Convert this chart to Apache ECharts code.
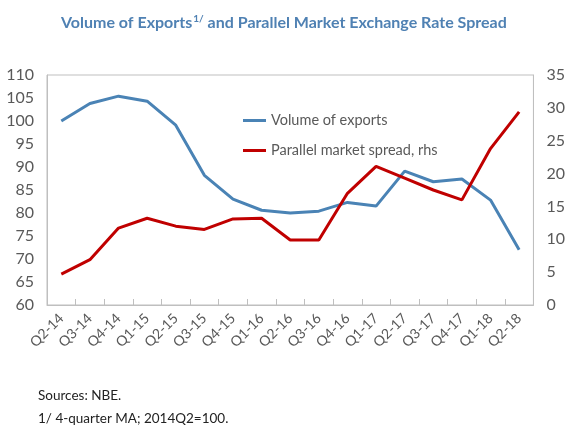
<!DOCTYPE html>
<html>
<head>
<meta charset="utf-8">
<script src="https://cdn.jsdelivr.net/npm/echarts@6/dist/echarts.min.js"></script>
<style>
html,body{margin:0;padding:0;background:#fff;}
#c{width:568px;height:429px;}
</style>
</head>
<body>
<div id="c"></div>
<script>
const categories = ["Q2-14","Q3-14","Q4-14","Q1-15","Q2-15","Q3-15","Q4-15","Q1-16","Q2-16","Q3-16","Q4-16","Q1-17","Q2-17","Q3-17","Q4-17","Q1-18","Q2-18"];
const exportsVolume = [100, 103.8, 105.4, 104.3, 99.1, 88.2, 83, 80.6, 80, 80.4, 82.3, 81.5, 89.1, 86.8, 87.4, 82.8, 72];
const parallelSpread = [4.7, 6.9, 11.7, 13.2, 12.0, 11.5, 13.1, 13.2, 9.9, 9.9, 17.0, 21.1, 19.3, 17.5, 16.0, 23.8, 29.4];
const leftTicks = {min: 60, max: 110, interval: 5};
const rightTicks = {min: 0, max: 35, interval: 5};

const FONT = "Lato";
const chart = echarts.init(document.getElementById('c'));
chart.setOption({
  animation: false,
  backgroundColor: '#fff',
  title: {
    text: '{a|Volume of Exports}{s|1/}{a| and Parallel Market Exchange Rate Spread}',
    left: 56, top: 9,
    textStyle: {
      fontFamily: FONT, fontWeight: 'bold', fontSize: 16,
      rich: {
        a: {fontFamily: FONT, fontWeight: 'bold', fontSize: 16, color: '#4f81b3'},
        s: {fontFamily: FONT, fontWeight: 'bold', fontSize: 10, color: '#4f81b3', verticalAlign: 'top', padding: [0,0,8,1]}
      }
    }
  },
  graphic: [
    {type: 'text', left: 38, top: 389, style: {text: 'Sources: NBE.', font: "13.5px Lato", fill: '#222'}},
    {type: 'text', left: 38, top: 412, style: {text: '1/ 4-quarter MA; 2014Q2=100.', font: "13.5px Lato", fill: '#222'}}
  ],
  legend: {
    orient: 'vertical', left: 238, top: 108, itemGap: 15,
    icon: 'rect', itemWidth: 23, itemHeight: 3,
    textStyle: {fontFamily: FONT, fontSize: 14.5, color: '#595959'},
    data: ['Volume of exports', 'Parallel market spread, rhs']
  },
  grid: {left: 47, right: 33, top: 75, bottom: 124, show: true, borderColor: '#bfbfbf', borderWidth: 1},
  xAxis: {
    type: 'category', data: categories, boundaryGap: true,
    axisLine: {lineStyle: {color: '#bfbfbf'}},
    axisTick: {show: true, inside: true, length: 6, lineStyle: {color: '#bfbfbf'}},
    axisLabel: {rotate: 45, fontFamily: FONT, fontSize: 14, color: '#595959', margin: 11}
  },
  yAxis: [
    {type: 'value', min: leftTicks.min, max: leftTicks.max, interval: leftTicks.interval,
     splitLine: {show: false}, axisLine: {show: true, lineStyle: {color: '#bfbfbf'}}, axisTick: {show: false},
     axisLabel: {fontFamily: FONT, fontSize: 16, color: '#595959', margin: 13}},
    {type: 'value', min: rightTicks.min, max: rightTicks.max, interval: rightTicks.interval,
     splitLine: {show: false}, axisLine: {show: true, lineStyle: {color: '#bfbfbf'}}, axisTick: {show: false},
     axisLabel: {fontFamily: FONT, fontSize: 16, color: '#595959', margin: 13}}
  ],
  series: [
    {name: 'Volume of exports', type: 'line', yAxisIndex: 0, data: exportsVolume,
     showSymbol: false, symbol: 'none', lineStyle: {width: 3, color: '#4a83b5'}, itemStyle: {color: '#4a83b5'}},
    {name: 'Parallel market spread, rhs', type: 'line', yAxisIndex: 1, data: parallelSpread,
     showSymbol: false, symbol: 'none', lineStyle: {width: 3, color: '#c00000'}, itemStyle: {color: '#c00000'}}
  ]
});
</script>
</body>
</html>
